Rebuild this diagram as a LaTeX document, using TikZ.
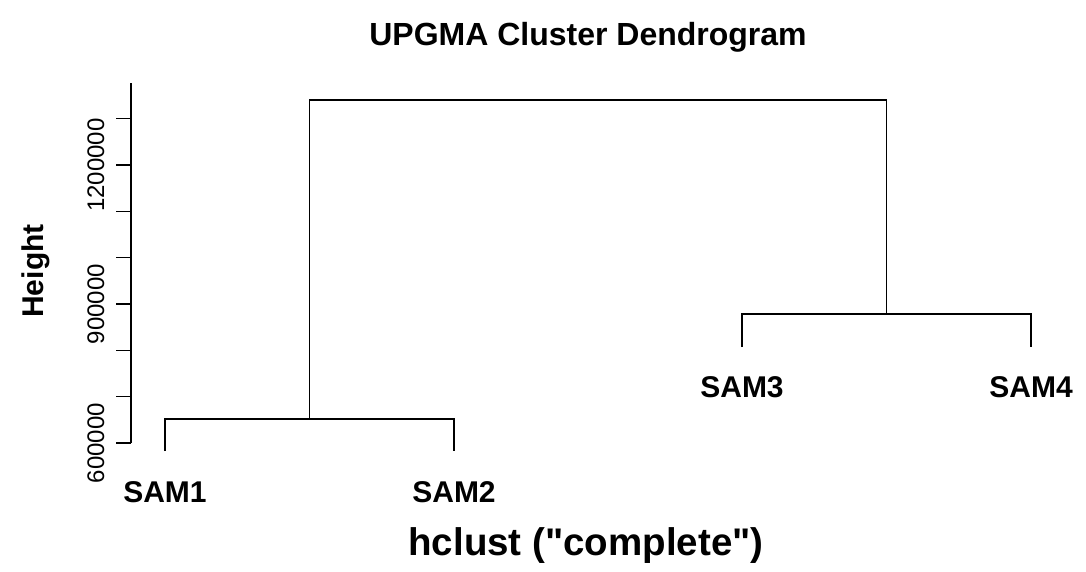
\documentclass[tikz,border=0pt]{standalone}
\usepackage{fontspec}
\setmainfont{Liberation Sans}[Ligatures=TeXOff]
\usetikzlibrary{positioning}

\begin{document}
\begin{tikzpicture}[x=1pt,y=1pt,
    branch/.style={line width=1.3pt,black},
    leaflab/.style={font=\fontsize{30}{36}\selectfont\bfseries,inner sep=0pt},
    ticklab/.style={font=\fontsize{24}{28}\selectfont,inner sep=0pt,rotate=90,anchor=base},
    boldlab/.style={font=\fontsize{32}{36}\selectfont\bfseries,inner sep=0pt,anchor=base}]

        % Page
        \useasboundingbox (0,0) rectangle (1086,571);

        % Title
        \node[boldlab] (title) at (588,525) {UPGMA Cluster Dendrogram};

        % Leaves
        \coordinate (t1) at (165,120);
        \coordinate (t2) at (454,120);
        \coordinate (t3) at (742,224);
        \coordinate (t4) at (1031,224);

        % Merges
        \coordinate (m12) at (309.5,152);
        \coordinate (m34) at (886.5,257);
        \coordinate (root) at (598,471);

        % Branches
        \draw[branch] (t1) |- (m12) -| (t2);
        \draw[branch] (t3) |- (m34) -| (t4);
        \draw[branch] (m12) |- (root) -| (m34);

        % Leaf labels
        \node[leaflab, below=30pt of t1] (sam1) {SAM1};
        \node[leaflab, below=30pt of t2] (sam2) {SAM2};
        \node[leaflab, below=29pt of t3] (sam3) {SAM3};
        \node[leaflab, below=29pt of t4] (sam4) {SAM4};

        % Height axis
        \coordinate (ybot) at (131,128);
        \coordinate (ytop) at (131,488);
        \draw[branch] (ybot) -- (ytop);
        \foreach \k in {0,...,7}
            \draw[branch] (131,{128+46.33*\k}) -- ++(-15,0);
        \foreach \k/\txt in {0/600000,3/900000,6/1200000}
            \node[ticklab] at (104,{128+46.33*\k}) {\txt};

        % Axis titles
        \node[boldlab, rotate=90, font=\fontsize{30}{34}\selectfont\bfseries] (ylab) at (43,300) {Height};
        \node[boldlab, font=\fontsize{38.5}{42}\selectfont\bfseries] (xlab) at (586,16) {hclust ("complete")};

    \end{tikzpicture}
\end{document}
